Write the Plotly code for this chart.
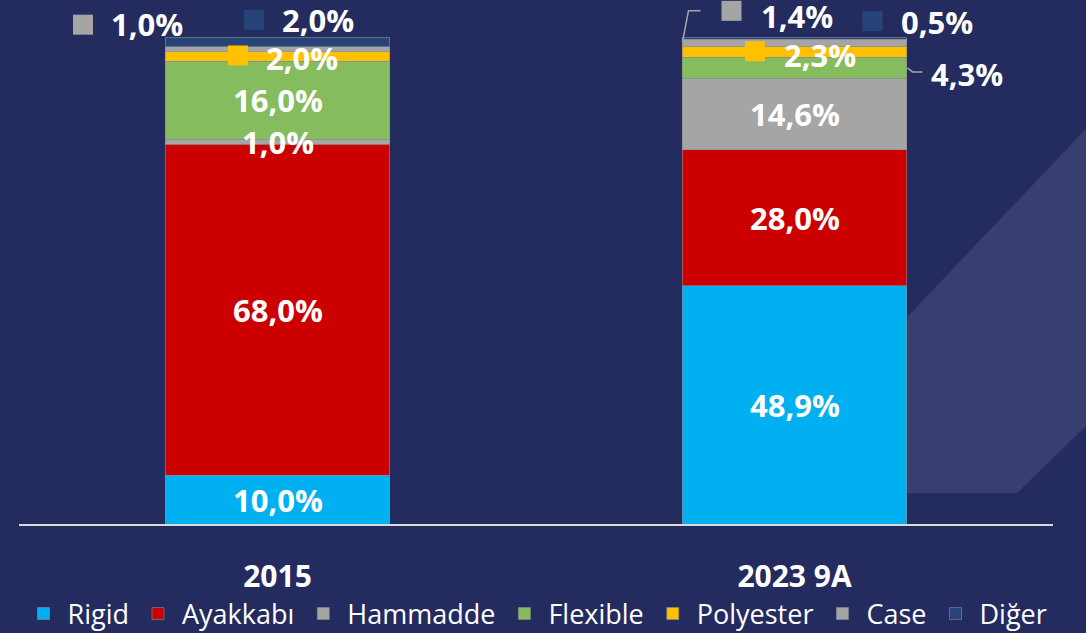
import plotly.graph_objects as go

# ---------------- data ----------------
categories = ["2015", "2023 9A"]
series_names = ["Rigid", "Ayakkabı", "Hammadde", "Flexible", "Polyester", "Case", "Diğer"]
rigid = [10.0, 48.9]
ayakkabi = [68.0, 28.0]
hammadde = [1.0, 14.6]
flexible = [16.0, 4.3]
polyester = [2.0, 2.3]
case = [1.0, 1.4]
diger = [2.0, 0.5]
series_values = [rigid, ayakkabi, hammadde, flexible, polyester, case, diger]
colors = ["#00B0F0", "#CC0000", "#A5A5A5", "#84BC5E", "#FFC000", "#A5A5A5", "#264478"]

# label placement (pixel offsets from bar centre / segment middle)
# (bar index, series index): (square dx, square dy, text dx, text dy)  square None -> no key
outside_labels = {
    (0, 4): (-39.5, 1, 24.5, -1.5),
    (0, 5): (-194.5, 24.5, -130.5, 25),
    (0, 6): (-23.5, 22, 40.5, 22),
    (1, 3): (None, None, 172.5, -6),
    (1, 4): (-39.5, 0.5, 25, -3),
    (1, 5): (-63, 32, 2, 27),
    (1, 6): (78, 17, 142, 16),
}
leader_paths = {
    (1, 5): "M-112,1 L-106,32 L-94,32",
    (1, 3): "M113,0 L118,-4 L128,-4",
}

def fmt(v):
    return f"{v:.1f}".replace(".", ",") + "%"

BG = "#242B5F"
FONT = "Open Sans"
LABEL_SIZE = 31

fig = go.Figure()
for name, vals, col in zip(series_names, series_values, colors):
    fig.add_trace(go.Bar(
        x=categories, y=vals, name=name,
        marker=dict(color=col, line=dict(color="rgba(140,140,140,0.6)", width=1)),
        hoverinfo="skip",
    ))

annotations = []
shapes = []

# decorative background polygon (paper coords)
shapes.append(dict(
    type="path", xref="paper", yref="paper", layer="below",
    path="M1.04,0.771 L0.6973,0.0592 L0.9652,0.0592 L1.04,0.2023 Z",
    fillcolor="#393E71", line=dict(width=0),
))

for b in range(len(categories)):
    cum = 0.0
    for s, vals in enumerate(series_values):
        v = vals[b]
        mid = cum + v / 2.0
        cum += v
        key = (b, s)
        if key in outside_labels:
            sdx, sdy, tdx, tdy = outside_labels[key]
            if sdx is not None:
                shapes.append(dict(
                    type="rect", xref="x", yref="y",
                    xsizemode="pixel", ysizemode="pixel",
                    xanchor=b, yanchor=mid,
                    x0=sdx - 10, x1=sdx + 10, y0=sdy - 10, y1=sdy + 10,
                    fillcolor=colors[s], line=dict(width=0), layer="above",
                ))
            annotations.append(dict(
                x=b, y=mid, xref="x", yref="y", text=fmt(v), showarrow=False,
                xanchor="center", yanchor="middle", xshift=tdx, yshift=tdy,
                font=dict(family=FONT, size=LABEL_SIZE, color="white", weight="bold"),
            ))
        else:
            annotations.append(dict(
                x=b, y=mid, xref="x", yref="y", text=fmt(v), showarrow=False,
                xanchor="center", yanchor="middle",
                font=dict(family=FONT, size=LABEL_SIZE, color="white", weight="bold"),
            ))
        if key in leader_paths:
            shapes.append(dict(
                type="path", xref="x", yref="y",
                xsizemode="pixel", ysizemode="pixel",
                xanchor=b, yanchor=mid, path=leader_paths[key],
                line=dict(color="#A5A5A5", width=1.5), layer="above",
            ))

fig.update_layout(
    width=1086, height=633, autosize=False,
    margin=dict(l=19, r=33, t=0, b=109, autoexpand=False),
    paper_bgcolor=BG, plot_bgcolor="rgba(0,0,0,0)",
    barmode="stack", bargap=0.565,
    showlegend=True,
    legend=dict(
        orientation="h", x=0.5, xanchor="center",
        yref="container", y=0.03, yanchor="middle",
        traceorder="normal", itemwidth=38,
        font=dict(family=FONT, size=27, color="white"),
        bgcolor="rgba(0,0,0,0)",
    ),
    xaxis=dict(
        type="category", range=[-0.5, 1.5], automargin=False,
        showline=True, linecolor="#D9D9D9", linewidth=2,
        showgrid=False, zeroline=False,
        ticks="outside", ticklen=25, tickcolor="rgba(0,0,0,0)",
        tickfont=dict(family=FONT, size=30, color="white", weight="bold"),
    ),
    yaxis=dict(range=[0, 100 * 524 / 487], visible=False, showgrid=False,
               zeroline=False, automargin=False),
    annotations=annotations,
    shapes=shapes,
    font=dict(family=FONT, color="white"),
)

fig.write_html(
    "out.html",
    config={"displayModeBar": False},
    post_script="document.body.style.margin='0';document.body.style.overflow='hidden';",
)
